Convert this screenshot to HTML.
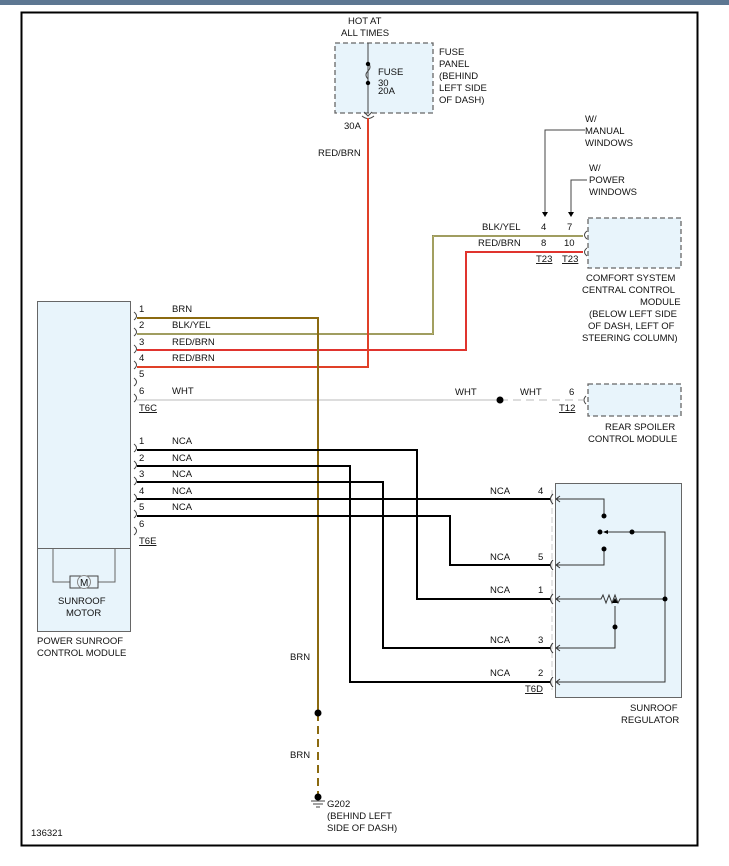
<!DOCTYPE html>
<html><head><meta charset="utf-8"><style>
html,body{margin:0;padding:0;background:#fff;}
svg{display:block;}
text{font-family:"Liberation Sans",sans-serif;font-size:9.5px;fill:#111;}
</style></head><body>
<svg width="729" height="866" viewBox="0 0 729 866" xmlns="http://www.w3.org/2000/svg">
<rect x="0" y="0" width="729" height="5" fill="#5d7792"/>
<rect x="21.5" y="12.5" width="676" height="833" fill="none" stroke="#000" stroke-width="2"/>

<!-- Fuse panel -->
<rect x="335" y="43" width="98" height="70" fill="#e8f4fb" stroke="#666" stroke-width="1.3" stroke-dasharray="5,3"/>
<text x="348" y="24">HOT AT</text><text x="341" y="36">ALL TIMES</text>
<line x1="368" y1="43" x2="368" y2="113" stroke="#444"/>
<path d="M368,63 q4,4 0,8 q-4,4 0,8" fill="none" stroke="#444"/>
<circle cx="368" cy="64" r="2.2" fill="#000"/><circle cx="368" cy="83" r="2.2" fill="#000"/>
<text x="378" y="75">FUSE</text><text x="378" y="86">30</text><text x="378" y="94">20A</text>
<text x="439" y="55">FUSE</text><text x="439" y="67">PANEL</text><text x="439" y="79">(BEHIND</text><text x="439" y="91">LEFT SIDE</text><text x="439" y="103">OF DASH)</text>
<path d="M364,112 l4,4 l4,-4 M362,116 q6,5 12,0" fill="none" stroke="#444"/>
<text x="344" y="129">30A</text>
<text x="318" y="156">RED/BRN</text>

<!-- W/ arrows -->
<path d="M585,130 H545 V212" fill="none" stroke="#444"/><path d="M542,212 l3,5 l3,-5z" fill="#000"/>
<path d="M587,180 H571 V212" fill="none" stroke="#444"/><path d="M568,212 l3,5 l3,-5z" fill="#000"/>
<text x="585" y="122">W/</text><text x="585" y="134">MANUAL</text><text x="585" y="146">WINDOWS</text>
<text x="589" y="171">W/</text><text x="589" y="183">POWER</text><text x="589" y="195">WINDOWS</text>

<!-- Comfort module -->
<rect x="588" y="218" width="93" height="50" fill="#e8f4fb" stroke="#666" stroke-width="1.3" stroke-dasharray="5,3"/>
<path d="M587,231 q-5,4 0,8 M587,248 q-5,4 0,8" fill="none" stroke="#444"/>
<text x="482" y="230">BLK/YEL</text><text x="541" y="230">4</text><text x="567" y="230">7</text>
<text x="478" y="246">RED/BRN</text><text x="541" y="246">8</text><text x="564" y="246">10</text>
<text x="536" y="262" text-decoration="underline">T23</text><text x="562" y="262" text-decoration="underline">T23</text>
<text x="586" y="281">COMFORT SYSTEM</text><text x="582" y="293">CENTRAL CONTROL</text><text x="640" y="305">MODULE</text>
<text x="589" y="317">(BELOW LEFT SIDE</text><text x="588" y="329">OF DASH, LEFT OF</text><text x="582" y="341">STEERING COLUMN)</text>

<!-- Rear spoiler -->
<rect x="588" y="384" width="93" height="32" fill="#e8f4fb" stroke="#666" stroke-width="1.3" stroke-dasharray="5,3"/>
<path d="M586,396 q-4,4 0,8" fill="none" stroke="#444"/>
<text x="455" y="395">WHT</text><text x="520" y="395">WHT</text><text x="569" y="395">6</text>
<text x="559" y="411" text-decoration="underline">T12</text>
<text x="605" y="430">REAR SPOILER</text><text x="588" y="442">CONTROL MODULE</text>

<!-- Left module -->
<rect x="37.5" y="301.5" width="93" height="330" fill="#e8f4fb" stroke="#666"/>
<line x1="37" y1="548.5" x2="131" y2="548.5" stroke="#666"/>
<path d="M53,549 V582 H70 M98,582 H115 V549" fill="none" stroke="#666"/>
<rect x="70" y="576" width="28" height="12" fill="#e8f4fb" stroke="#444"/>
<circle cx="84" cy="582" r="6.5" fill="#e8f4fb" stroke="#888"/>
<text x="80" y="586" style="font-size:10px">M</text>
<text x="58" y="604">SUNROOF</text><text x="66" y="616">MOTOR</text>
<text x="37" y="644">POWER SUNROOF</text><text x="37" y="656">CONTROL MODULE</text>
<g fill="none" stroke="#444">
<path d="M134,312 q5,4 0,8 M134,328 q5,4 0,8 M134,345 q5,4 0,8 M134,361 q5,4 0,8 M134,378 q5,4 0,8 M134,394 q5,4 0,8"/>
<path d="M134,444 q5,4 0,8 M134,461 q5,4 0,8 M134,477 q5,4 0,8 M134,494 q5,4 0,8 M134,510 q5,4 0,8 M134,527 q5,4 0,8"/>
</g>
<text x="139" y="312">1</text><text x="139" y="328">2</text><text x="139" y="345">3</text><text x="139" y="361">4</text><text x="139" y="377">5</text><text x="139" y="394">6</text>
<text x="139" y="411" text-decoration="underline">T6C</text>
<text x="172" y="312">BRN</text><text x="172" y="328">BLK/YEL</text><text x="172" y="345">RED/BRN</text><text x="172" y="361">RED/BRN</text><text x="172" y="394">WHT</text>
<text x="139" y="444">1</text><text x="139" y="461">2</text><text x="139" y="477">3</text><text x="139" y="494">4</text><text x="139" y="510">5</text><text x="139" y="527">6</text>
<text x="139" y="544" text-decoration="underline">T6E</text>
<text x="172" y="444">NCA</text><text x="172" y="461">NCA</text><text x="172" y="477">NCA</text><text x="172" y="494">NCA</text><text x="172" y="510">NCA</text>

<!-- wires -->
<path d="M137,400 H500" stroke="#ddd" stroke-width="2" fill="none"/>
<path d="M500,400 H583" stroke="#ddd" stroke-width="2" fill="none" stroke-dasharray="8,5"/>
<circle cx="500" cy="400" r="3.5" fill="#000"/>
<path d="M137,334 H433 V236 H583" stroke="#7a7a60" stroke-width="2" fill="none"/>
<path d="M137,334 H433 V236 H583" stroke="#e0d860" stroke-width="0.8" fill="none"/>
<path d="M137,350 H466 V252 H583" stroke="#c0392b" stroke-width="2" fill="none"/>
<path d="M137,350 H466 V252 H583" stroke="#ff3030" stroke-width="1" fill="none"/>
<path d="M137,367 H368 V118" stroke="#c05020" stroke-width="2" fill="none"/>
<path d="M137,367 H368 V118" stroke="#ff3030" stroke-width="1" fill="none"/>
<path d="M137,318 H318 V713" stroke="#8b6a10" stroke-width="2" fill="none"/>
<path d="M318,713 V795" stroke="#8b6a10" stroke-width="2" fill="none" stroke-dasharray="8,5"/>
<circle cx="318" cy="713" r="3.5" fill="#000"/>
<circle cx="318" cy="797" r="3.5" fill="#000"/>
<path d="M311,801 H325 M313,804 H323 M316,807 H320" stroke="#444"/>
<text x="290" y="660">BRN</text><text x="290" y="758">BRN</text>
<text x="327" y="807">G202</text><text x="327" y="819">(BEHIND LEFT</text><text x="327" y="831">SIDE OF DASH)</text>

<g stroke="#000" stroke-width="2" fill="none">
<path d="M137,450 H417 V599 H550"/>
<path d="M137,466 H350 V682 H550"/>
<path d="M137,482 H383 V648 H550"/>
<path d="M137,499 H550"/>
<path d="M137,516 H450 V565 H550"/>
</g>

<!-- regulator -->
<rect x="555.5" y="483.5" width="126" height="214" fill="#e8f4fb" stroke="#666"/>
<line x1="552" y1="490" x2="552" y2="690" stroke="#ccc" stroke-dasharray="6,3"/>
<g fill="none" stroke="#333">
<path d="M553,494 q-5,5 0,10 M553,560 q-5,5 0,10 M553,594 q-5,5 0,10 M553,643 q-5,5 0,10 M553,677 q-5,5 0,10"/>
<path d="M560,496 l-4,3 l4,3 M560,562 l-4,3 l4,3 M560,596 l-4,3 l4,3 M560,645 l-4,3 l4,3 M560,679 l-4,3 l4,3"/>
<path d="M557,499 H604 V516 M604,549 V565 H557 M608,532 H665 V682 H557 M557,599 H601 l2,-4 l3,8 l3,-8 l3,8 l3,-8 l3,8 l2,-4 H665 M615,606 V648 H557"/>
</g>
<path d="M612,603 l3,-5 l3,5z" fill="#000"/>
<path d="M603,532 l5,-2 v4z" fill="#000"/>
<g fill="#000"><circle cx="604" cy="516" r="2.5"/><circle cx="604" cy="549" r="2.5"/><circle cx="600" cy="532" r="2.5"/><circle cx="632" cy="532" r="2.5"/><circle cx="665" cy="599" r="2.5"/><circle cx="615" cy="627" r="2.5"/></g>
<text x="490" y="494">NCA</text><text x="538" y="494">4</text>
<text x="490" y="560">NCA</text><text x="538" y="560">5</text>
<text x="490" y="593">NCA</text><text x="538" y="593">1</text>
<text x="490" y="643">NCA</text><text x="538" y="643">3</text>
<text x="490" y="676">NCA</text><text x="538" y="676">2</text>
<text x="525" y="692" text-decoration="underline">T6D</text>
<text x="630" y="711">SUNROOF</text><text x="621" y="723">REGULATOR</text>

<text x="31" y="836">136321</text>
</svg>
</body></html>
